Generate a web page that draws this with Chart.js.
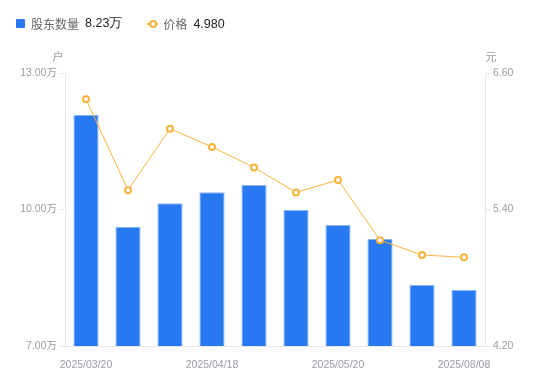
<!DOCTYPE html>
<html>
<head>
<meta charset="utf-8">
<script src="https://cdn.jsdelivr.net/npm/chart.js@4.4.1/dist/chart.umd.min.js"></script>
<style>
  html, body { margin: 0; padding: 0; background: #fff; }
  #wrap { position: relative; width: 550px; height: 381px; font-family: "Noto Sans CJK SC", "Noto Sans", sans-serif; }
  #legend { position: absolute; left: 16px; top: 15px; font-size: 12px; color: #666; display: flex; align-items: center; z-index: 2; }
  #legend .item { display: flex; align-items: center; margin-right: 25px; }
  #legend .sq { width: 9px; height: 9px; background: #2878f2; border-radius: 1px; margin-right: 6px; }
  #legend .ln { position: relative; width: 11px; height: 2px; background: #f6b33c; margin-right: 5px; }
  #legend .ln:after { content: ""; position: absolute; left: 2px; top: -3px; width: 4px; height: 4px; border: 2px solid #f6b33c; border-radius: 50%; background: #fff; }
  #legend .val { color: #222; margin-left: 6px; font-family: "Liberation Sans", Arial, sans-serif; font-size: 12.5px; }
  canvas { position: absolute; left: 0; top: 0; }
</style>
</head>
<body>
<div id="wrap">
  <div id="legend">
    <div class="item"><span class="sq"></span>股东数量<span class="val">8.23万</span></div>
    <div class="item"><span class="ln"></span>价格<span class="val">4.980</span></div>
  </div>
  <canvas id="myChart" width="550" height="381"></canvas>
</div>
<script>
// dates (only every 3rd one is labelled on the axis)
var dates = ["2025/03/20", "2025/03/31", "2025/04/10", "2025/04/18", "2025/04/30",
             "2025/05/09", "2025/05/20", "2025/06/30", "2025/07/18", "2025/08/08"]
// holders, in 万户
var holders = [12.08, 9.62, 10.14, 10.38, 10.54, 9.99, 9.66, 9.35, 8.34, 8.23]
// price, in 元
var price = [6.37, 5.57, 6.11, 5.95, 5.77, 5.55, 5.66, 5.13, 5.00, 4.98]

var leftTicks = [7, 10, 13]
var rightTicks = [4.2, 5.4, 6.6]

var tickColor = "#9b9ca6"
var lineColor = "#e6e7eb"
var tickFont = { size: 10.5, family: "'Liberation Sans', Arial, 'Noto Sans CJK SC', sans-serif" }

var unitPlugin = {
    id: "units",
    afterDraw: function (chart) {
        var ctx = chart.ctx
        var area = chart.chartArea
        ctx.save()
        ctx.fillStyle = tickColor
        ctx.font = "11px 'Noto Sans CJK SC', sans-serif"
        ctx.textBaseline = "middle"
        ctx.textAlign = "center"
        ctx.fillText("户", area.left - 7, 57)
        ctx.fillText("元", area.right + 6, 57)
        ctx.restore()
    }
}

var ctx = document.getElementById("myChart").getContext("2d")
var chart = new Chart(ctx, {
    data: {
        labels: dates,
        datasets: [
            {
                type: "line",
                label: "价格",
                data: price,
                yAxisID: "y1",
                borderColor: "#f6b33c",
                borderWidth: 1,
                pointRadius: 3,
                pointBorderWidth: 2,
                pointBackgroundColor: "#fff",
                pointBorderColor: "#f6b33c",
                tension: 0,
                order: 0
            },
            {
                type: "bar",
                label: "股东数量",
                data: holders,
                yAxisID: "y",
                backgroundColor: "#2878f2",
                borderColor: "#8cb6f7",
                borderWidth: 1,
                categoryPercentage: 1,
                barPercentage: 0.6,
                order: 1
            }
        ]
    },
    options: {
        responsive: false,
        animation: false,
        layout: { padding: { top: 73, left: 0, right: 0, bottom: 0 } },
        plugins: {
            legend: { display: false },
            tooltip: { enabled: false }
        },
        scales: {
            x: {
                grid: { display: false },
                border: { color: lineColor },
                ticks: {
                    autoSkip: false,
                    maxRotation: 0,
                    padding: 5,
                    color: tickColor,
                    font: tickFont,
                    callback: function (v, i) { return i % 3 === 0 ? dates[i] : "" }
                },
                afterFit: function (s) { s.height = 35 }
            },
            y: {
                position: "left",
                min: 7,
                max: 13,
                afterBuildTicks: function (s) { s.ticks = leftTicks.map(function (v) { return { value: v } }) },
                grid: { drawOnChartArea: false, tickLength: 5, color: lineColor },
                border: { color: lineColor },
                ticks: {
                    padding: 3,
                    color: tickColor,
                    font: tickFont,
                    callback: function (v) { return v.toFixed(2) + "万" }
                },
                afterFit: function (s) { s.width = 65 }
            },
            y1: {
                position: "right",
                min: 4.2,
                max: 6.6,
                afterBuildTicks: function (s) { s.ticks = rightTicks.map(function (v) { return { value: v } }) },
                grid: { drawOnChartArea: false, tickLength: 5, color: lineColor },
                border: { color: lineColor },
                ticks: {
                    padding: 3,
                    color: tickColor,
                    font: tickFont,
                    callback: function (v) { return v.toFixed(2) }
                },
                afterFit: function (s) { s.width = 65 }
            }
        }
    },
    plugins: [unitPlugin]
})
</script>
</body>
</html>
